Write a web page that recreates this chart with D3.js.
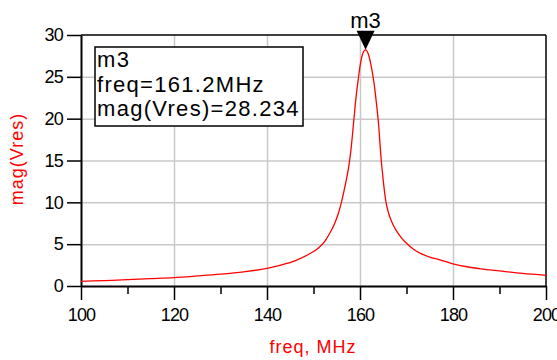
<!DOCTYPE html>
<html>
<head>
<meta charset="utf-8">
<script src="https://cdn.jsdelivr.net/npm/d3@7"></script>
<style>
  body { margin: 0; background: #fff; }
  svg { display: block; font-family: "Liberation Sans", Arial, sans-serif; }
</style>
</head>
<body>
<svg id="chart" width="557" height="360"></svg>
<script>
// values
const freqMHz = [100, 105, 110, 115, 120, 125, 130, 135, 140, 143, 146, 149, 151, 152.5, 153.5, 154.5, 155.3, 156, 156.8, 157.5, 158, 158.6, 159.1, 159.6, 160.1, 160.6, 161.2, 161.8, 162.4, 163, 163.5, 164, 164.5, 165, 165.6, 166.2, 166.8, 167.5, 168.2, 169, 170, 171.5, 173, 175, 177, 180, 183, 186, 190, 195, 200];
const magVres = [0.55, 0.65, 0.75, 0.87, 1.0, 1.2, 1.42, 1.7, 2.1, 2.5, 3.0, 3.8, 4.5, 5.4, 6.3, 7.4, 8.6, 10.0, 12.0, 14.0, 16.0, 19.4, 22.3, 24.6, 26.6, 27.8, 28.234, 27.7, 26.3, 24.3, 22.0, 19.3, 15.5, 12.6, 10.0, 8.6, 7.7, 6.9, 6.3, 5.7, 5.1, 4.4, 3.9, 3.45, 3.15, 2.65, 2.3, 2.05, 1.8, 1.5, 1.28];
const xTicks = [100, 120, 140, 160, 180, 200];
const xMinorTicks = [110, 130, 150, 170, 190];
const yTicks = [0, 5, 10, 15, 20, 25, 30];
const markerName = "m3";
const markerFreq = 161.2;
const markerMag = 28.234;

const svg = d3.select("#chart");
const plotLeft = 81, plotRight = 546, plotTop = 35, plotBottom = 286;

const x = d3.scaleLinear().domain([100, 200]).range([plotLeft, plotRight]);
const y = d3.scaleLinear().domain([0, 30]).range([plotBottom, plotTop]);

// grid
svg.append("g")
  .attr("transform", "translate(0," + plotBottom + ")")
  .call(d3.axisBottom(x).tickValues(xTicks.slice(1, -1)).tickSize(-(plotBottom - plotTop)).tickFormat(""))
  .call(g => g.select(".domain").remove())
  .selectAll("line").attr("stroke", "#c8c8c8").attr("stroke-width", 1.5);

svg.append("g")
  .attr("transform", "translate(" + plotLeft + ",0)")
  .call(d3.axisLeft(y).tickValues(yTicks.slice(1, -1)).tickSize(-(plotRight - plotLeft)).tickFormat(""))
  .call(g => g.select(".domain").remove())
  .selectAll("line").attr("stroke", "#c8c8c8").attr("stroke-width", 1.5);

// frame
svg.append("line").attr("x1", plotLeft).attr("x2", plotRight).attr("y1", plotTop).attr("y2", plotTop)
  .attr("stroke", "#000").attr("stroke-width", 1.5);
svg.append("line").attr("x1", plotRight).attr("x2", plotRight).attr("y1", plotTop).attr("y2", plotBottom)
  .attr("stroke", "#000").attr("stroke-width", 1.5);

// axes
const xAxis = svg.append("g")
  .attr("class", "axis")
  .attr("transform", "translate(0," + plotBottom + ")")
  .call(d3.axisBottom(x).tickValues(xTicks).tickSize(14).tickSizeOuter(0).tickPadding(4));
svg.append("g")
  .attr("class", "axis")
  .attr("transform", "translate(0," + plotBottom + ")")
  .call(d3.axisBottom(x).tickValues(xMinorTicks).tickSize(8).tickFormat(""))
  .call(g => g.select(".domain").remove());
const yAxis = svg.append("g")
  .attr("class", "axis")
  .attr("transform", "translate(" + plotLeft + ",0)")
  .call(d3.axisLeft(y).tickValues(yTicks).tickSize(14).tickSizeOuter(0).tickPadding(4));

svg.selectAll(".axis .domain").attr("stroke", "#000").attr("stroke-width", 2);
svg.selectAll(".axis .tick line").attr("stroke", "#000").attr("stroke-width", 1.5);
svg.selectAll(".axis .tick text")
  .attr("fill", "#000")
  .style("font-size", "18px")
  .style("letter-spacing", "-0.8px")
  .style("font-family", "'Liberation Sans', Arial, sans-serif");
xAxis.selectAll(".tick text").attr("dy", "0.95em");

// curve
const line = d3.line()
  .x((d, i) => x(freqMHz[i]))
  .y(d => y(d))
  .curve(d3.curveMonotoneX);
svg.append("path")
  .datum(magVres)
  .attr("d", line)
  .attr("fill", "none")
  .attr("stroke", "#ff0000")
  .attr("stroke-width", 1.3);

// marker
const mx = x(markerFreq), my = y(markerMag);
svg.append("path")
  .attr("d", "M" + (mx - 9) + "," + (my - 19) + "L" + (mx + 9) + "," + (my - 19) + "L" + mx + "," + my + "Z")
  .attr("fill", "#000");
svg.append("text")
  .attr("x", mx).attr("y", 28)
  .attr("text-anchor", "middle")
  .style("font-size", "22px")
  .text(markerName);

// marker readout box
const box = svg.append("g");
box.append("rect")
  .attr("x", 95).attr("y", 47).attr("width", 208).attr("height", 79)
  .attr("fill", "#fff").attr("stroke", "#000").attr("stroke-width", 1.5);
const lines = [markerName, "freq=" + markerFreq + "MHz", "mag(Vres)=" + markerMag];
box.selectAll("text.read")
  .data(lines)
  .enter()
  .append("text")
  .attr("class", "read")
  .attr("x", 97)
  .attr("y", (d, i) => 67 + i * 24.5)
  .style("font-size", "22px")
  .style("letter-spacing", "1.3px")
  .text(d => d);

// axis titles
svg.append("text")
  .attr("transform", "translate(23,159) rotate(-90)")
  .attr("text-anchor", "middle")
  .attr("fill", "#ff0000")
  .style("font-size", "18px")
  .style("letter-spacing", "1px")
  .text("mag(Vres)");
svg.append("text")
  .attr("x", 313).attr("y", 353)
  .attr("text-anchor", "middle")
  .attr("fill", "#ff0000")
  .style("font-size", "18px")
  .style("letter-spacing", "1px")
  .text("freq, MHz");
</script>
</body>
</html>
